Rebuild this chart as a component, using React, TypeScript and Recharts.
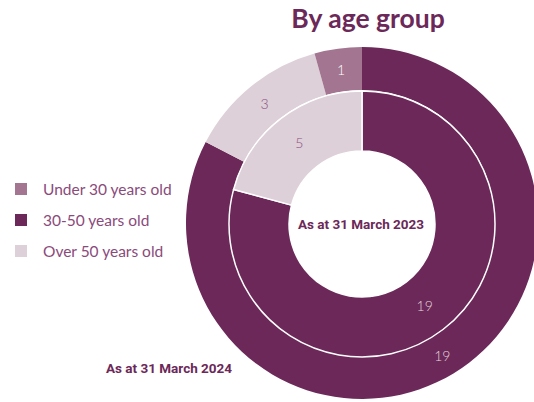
import type { FC } from "react";
import { PieChart, Pie, Cell } from "recharts";

// legend order
const categories = ["Under 30 years old", "30-50 years old", "Over 50 years old"];
const values2024 = [1, 19, 3];
const values2023 = [0, 19, 5];
// drawing order from 12 o'clock, clockwise
const ringOrder = [1, 2, 0];

const COLORS = ["#a37590", "#6b2858", "#ddd0d8"];
const LABEL_COLORS = ["#ffffff", "#e4d6df", "#8c4f7e"];
const TEXT = "#8a4a7b";
const DARK = "#6b2858";
const FONT = "Lato, 'Open Sans', sans-serif";
const BOLD_FONT = "Roboto, Lato, sans-serif";

const outerData = ringOrder.map((i) => ({ name: categories[i], value: values2024[i], idx: i }));
const innerData = ringOrder.map((i) => ({ name: categories[i], value: values2023[i], idx: i }));

const RAD = Math.PI / 180;

const renderLabel = (p: any) => {
  if (!p.value) return null;
  const r = p.innerRadius + (p.outerRadius - p.innerRadius) * 0.5;
  const x = p.cx + r * Math.cos(-p.midAngle * RAD);
  const y = p.cy + r * Math.sin(-p.midAngle * RAD);
  return (
    <text
      x={x}
      y={y}
      fill={LABEL_COLORS[p.payload.idx]}
      textAnchor="middle"
      dominantBaseline="central"
      fontSize={14}
      fontWeight={300}
      fontFamily={FONT}
    >
      {p.value}
    </text>
  );
};

const App: FC = () => {
  return (
    <div style={{ position: "absolute", left: 0, top: 0, width: 534, height: 402, overflow: "hidden", background: "#fff" }}>
      <PieChart width={534} height={402} margin={{ top: 0, right: 0, bottom: 0, left: 0 }}>
        <Pie
          data={outerData}
          dataKey="value"
          cx={362}
          cy={223}
          innerRadius={133}
          outerRadius={176}
          startAngle={90}
          endAngle={-270}
          stroke="none"
          label={renderLabel}
          labelLine={false}
          isAnimationActive={false}
        >
          {outerData.map((d) => (
            <Cell key={`o-${d.idx}`} fill={COLORS[d.idx]} />
          ))}
        </Pie>
        <Pie
          data={innerData}
          dataKey="value"
          cx={362}
          cy={224}
          innerRadius={73}
          outerRadius={133}
          startAngle={90}
          endAngle={-270}
          stroke="#ffffff"
          strokeWidth={1.5}
          label={renderLabel}
          labelLine={false}
          isAnimationActive={false}
        >
          {innerData.map((d) => (
            <Cell key={`i-${d.idx}`} fill={COLORS[d.idx]} />
          ))}
        </Pie>
      </PieChart>
      <svg width={534} height={402} style={{ position: "absolute", left: 0, top: 0, pointerEvents: "none" }}>
        <text x={368} y={28} textAnchor="middle" fill={DARK} fontSize={26.5} fontWeight={700} fontFamily={FONT}>
          By age group
        </text>
        {categories.map((c, i) => (
          <g key={c}>
            <rect x={15} y={183 + i * 31} width={12} height={12} fill={COLORS[i]} />
            <text x={43} y={195 + i * 31} fill={TEXT} fontSize={15.5} fontFamily={FONT} fontWeight={400}>
              {c}
            </text>
          </g>
        ))}
        <text x={361} y={229} textAnchor="middle" fill={DARK} fontSize={13.5} fontWeight={700} fontFamily={BOLD_FONT}>
          As at 31 March 2023
        </text>
        <text x={169} y={373} textAnchor="middle" fill={DARK} fontSize={13.5} fontWeight={700} fontFamily={BOLD_FONT}>
          As at 31 March 2024
        </text>
      </svg>
    </div>
  );
};

export default App;
